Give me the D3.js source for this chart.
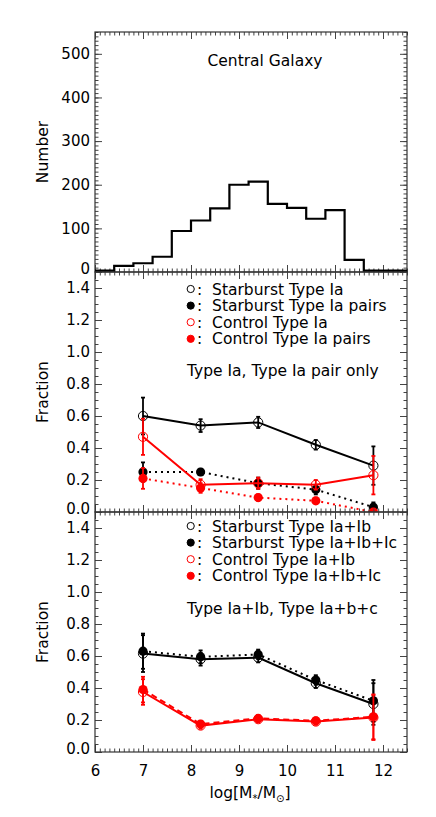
<!DOCTYPE html>
<html lang="en">
<head>
<meta charset="utf-8">
<title>Central galaxy fractions</title>
<script src="https://cdnjs.cloudflare.com/ajax/libs/d3/7.8.5/d3.min.js"></script>
<style>
  body { margin: 0; background: #fff; }
  svg { display: block; font-family: "DejaVu Sans", sans-serif; }
  .tick line { stroke: #444; }
  .tick text { font-size: 15px; fill: #000; font-family: "DejaVu Sans", sans-serif; }
</style>
</head>
<body>
<script>
// ---- data ----
var histLeft   = [6.0, 6.4, 6.8, 7.2, 7.6, 8.0, 8.4, 8.8, 9.2, 9.6, 10.0, 10.4, 10.8, 11.2, 11.6, 12.0, 12.4];
var histCounts = [0, 14, 20, 35, 94, 118, 146, 200, 207, 156, 147, 122, 142, 28, 0, 0, 0];
var binWidth = 0.4;

var massBins = [7.0, 8.2, 9.4, 10.6, 11.8];

// panel 2 : Type Ia, Type Ia pair only
var sbIa        = [0.60, 0.54, 0.56, 0.42, 0.29];
var sbIaErr     = [0.115, 0.04, 0.035, 0.03, 0.12];
var sbIaPairs   = [0.25, 0.25, 0.18, 0.14, 0.03];
var sbIaPairsErr= [0.06, 0.02, 0.035, 0.03, 0.03];
var ctIa        = [0.47, 0.17, 0.18, 0.17, 0.23];
var ctIaErr     = [0.113, 0.035, 0.035, 0.03, 0.12];
var ctIaPairs   = [0.21, 0.15, 0.09, 0.07, 0.0];
var ctIaPairsErr= [0.065, 0.03, 0.02, 0.02, 0.02];

// panel 3 : Type Ia+Ib, Type Ia+Ib+Ic
var sbIaIb      = [0.615, 0.58, 0.59, 0.43, 0.30];
var sbIaIbErr   = [0.115, 0.04, 0.03, 0.03, 0.13];
var sbIaIbIc    = [0.63, 0.595, 0.61, 0.45, 0.32];
var sbIaIbIcErr = [0.11, 0.04, 0.03, 0.03, 0.13];
var ctIaIb      = [0.375, 0.165, 0.205, 0.19, 0.215];
var ctIaIbErr   = [0.08, 0.02, 0.02, 0.02, 0.14];
var ctIaIbIc    = [0.39, 0.175, 0.21, 0.195, 0.22];
var ctIaIbIcErr = [0.08, 0.02, 0.02, 0.02, 0.14];

var xTicks = [6, 7, 8, 9, 10, 11, 12];
var numTicks = [0, 100, 200, 300, 400, 500];
var fracTicks = [0.0, 0.2, 0.4, 0.6, 0.8, 1.0, 1.2, 1.4];

// ---- layout ----
var W = 436, H = 817;
var plotLeft = 95, plotW = 312, plotH = 240;
var tops = [32, 272, 512];

var svg = d3.select("body").append("svg").attr("width", W).attr("height", H);

var x = d3.scaleLinear().domain([6, 12.5]).range([0, plotW]);
var xMinor = d3.range(6, 12.51, 0.1).map(function(v){ return Math.round(v*10)/10; });

function frame(g, y, major, minor, fmt, showX) {
    // left
    g.append("g").call(d3.axisLeft(y).tickValues(major).tickSize(-7).tickPadding(5).tickFormat(fmt))
        .call(function(s){ s.select(".domain").remove(); });
    g.append("g").call(d3.axisLeft(y).tickValues(minor).tickSize(-3.5).tickFormat(""))
        .call(function(s){ s.select(".domain").remove(); });
    // right
    g.append("g").attr("transform", "translate(" + plotW + ",0)")
        .call(d3.axisRight(y).tickValues(major).tickSize(-7).tickFormat(""))
        .call(function(s){ s.select(".domain").remove(); });
    g.append("g").attr("transform", "translate(" + plotW + ",0)")
        .call(d3.axisRight(y).tickValues(minor).tickSize(-3.5).tickFormat(""))
        .call(function(s){ s.select(".domain").remove(); });
    // top
    g.append("g").call(d3.axisTop(x).tickValues(xTicks).tickSize(-7).tickFormat(""))
        .call(function(s){ s.select(".domain").remove(); });
    g.append("g").call(d3.axisTop(x).tickValues(xMinor).tickSize(-3.5).tickFormat(""))
        .call(function(s){ s.select(".domain").remove(); });
    // bottom
    g.append("g").attr("transform", "translate(0," + plotH + ")")
        .call(d3.axisBottom(x).tickValues(xTicks).tickSize(-7).tickPadding(13)
              .tickFormat(showX ? d3.format("d") : ""))
        .call(function(s){ s.select(".domain").remove(); });
    g.append("g").attr("transform", "translate(0," + plotH + ")")
        .call(d3.axisBottom(x).tickValues(xMinor).tickSize(-3.5).tickFormat(""))
        .call(function(s){ s.select(".domain").remove(); });
    // nudge lowest y label up like the original
    g.selectAll("text").filter(function(d){ return d === 0; })
        .attr("transform", function(){ return d3.select(this.parentNode).datum() === 0 ? "translate(0,-3)" : null; });
    g.append("rect").attr("width", plotW).attr("height", plotH)
        .attr("fill", "none").attr("stroke", "#333").attr("stroke-width", 1.2);
}

function panel(i, id) {
    var g = svg.append("g").attr("transform", "translate(" + plotLeft + "," + tops[i] + ")");
    g.append("clipPath").attr("id", id).append("rect")
        .attr("x", 0).attr("y", 0).attr("width", plotW).attr("height", plotH);
    return g;
}

// ---- panel 1 : histogram ----
var g1 = panel(0, "c1");
var y1 = d3.scaleLinear().domain([0, 550]).range([plotH, 0]);
var histPts = histLeft.map(function(v, i){ return [v, histCounts[i]]; });
histPts.push([12.5, histCounts[histCounts.length-1]]);
frame(g1, y1, numTicks, d3.range(0, 551, 10), d3.format("d"), false);
// zero bins sit on the frame, lift the line a touch like the original
g1.append("path")
    .attr("d", d3.line().x(function(d){ return x(d[0]); }).y(function(d){ return Math.min(y1(d[1]), plotH - 1.3); })
          .curve(d3.curveStepAfter)(histPts))
    .attr("fill", "none").attr("stroke", "#000").attr("stroke-width", 2.2);
g1.append("text").attr("x", 170).attr("y", 34).attr("text-anchor", "middle")
    .attr("font-size", 15.5).text("Central Galaxy");

// ---- series drawing ----
function series(g, y, vals, errs, color, filled, dash) {
    var line = d3.line().x(function(d, i){ return x(massBins[i]); }).y(function(d){ return y(d); });
    g.append("path").attr("d", line(vals)).attr("fill", "none")
        .attr("stroke", color).attr("stroke-width", 2)
        .attr("stroke-dasharray", dash || null);
    var eb = g.append("g").attr("stroke", color).attr("stroke-width", 1.8);
    vals.forEach(function(v, i){
        var cx = x(massBins[i]);
        eb.append("line").attr("x1", cx).attr("x2", cx).attr("y1", y(v - errs[i])).attr("y2", y(v + errs[i]));
        eb.append("line").attr("x1", cx - 2).attr("x2", cx + 2).attr("y1", y(v + errs[i])).attr("y2", y(v + errs[i]));
        eb.append("line").attr("x1", cx - 2).attr("x2", cx + 2).attr("y1", y(v - errs[i])).attr("y2", y(v - errs[i]));
    });
    g.selectAll(null).data(vals).enter().append("circle")
        .attr("cx", function(d, i){ return x(massBins[i]); })
        .attr("cy", function(d){ return y(d); })
        .attr("r", 4.6)
        .attr("fill", filled ? color : "none")
        .attr("stroke", color).attr("stroke-width", filled ? 0 : 1);
}

function legend(g, rows, baseY, gap) {
    rows.forEach(function(r, i){
        var by = baseY + i * gap;
        g.append("circle").attr("cx", 95.7).attr("cy", by - 5.5).attr("r", 3.6)
            .attr("fill", r.filled ? r.color : "#fff")
            .attr("stroke", r.color).attr("stroke-width", 1);
        g.append("text").attr("x", 102).attr("y", by).attr("font-size", 15.5)
            .attr("xml:space", "preserve").text(":  " + r.label);
    });
}

// ---- panel 2 ----
var g2 = panel(1, "c2");
var y2 = d3.scaleLinear().domain([0, 1.5]).range([plotH, 0]);
var d2 = g2.append("g").attr("clip-path", "url(#c2)");
series(d2, y2, sbIaPairs, sbIaPairsErr, "#000", true, "2,4");
series(d2, y2, ctIaPairs, ctIaPairsErr, "#ff0000", true, "2,4");
series(d2, y2, sbIa, sbIaErr, "#000", false, null);
series(d2, y2, ctIa, ctIaErr, "#ff0000", false, null);
frame(g2, y2, fracTicks, d3.range(0, 1.501, 0.05), d3.format(".1f"), false);
legend(g2, [
    {label: "Starburst Type Ia", color: "#000", filled: false},
    {label: "Starburst Type Ia pairs", color: "#000", filled: true},
    {label: "Control Type Ia", color: "#ff0000", filled: false},
    {label: "Control Type Ia pairs", color: "#ff0000", filled: true}
], 22.5, 16.6);
g2.append("text").attr("x", 92).attr("y", 103.5).attr("font-size", 15.5)
    .text("Type Ia, Type Ia pair only");

// ---- panel 3 ----
var g3 = panel(2, "c3");
var y3 = d3.scaleLinear().domain([0, 1.5]).range([plotH, 0]);
var d3g = g3.append("g").attr("clip-path", "url(#c3)");
series(d3g, y3, sbIaIb, sbIaIbErr, "#000", false, null);
series(d3g, y3, ctIaIb, ctIaIbErr, "#ff0000", false, null);
series(d3g, y3, sbIaIbIc, sbIaIbIcErr, "#000", true, "2,4");
series(d3g, y3, ctIaIbIc, ctIaIbIcErr, "#ff0000", true, "6,4");
frame(g3, y3, fracTicks, d3.range(0, 1.501, 0.05), d3.format(".1f"), true);
legend(g3, [
    {label: "Starburst Type Ia+Ib", color: "#000", filled: false},
    {label: "Starburst Type Ia+Ib+Ic", color: "#000", filled: true},
    {label: "Control Type Ia+Ib", color: "#ff0000", filled: false},
    {label: "Control Type Ia+Ib+Ic", color: "#ff0000", filled: true}
], 19.5, 16.6);
g3.append("text").attr("x", 92).attr("y", 102).attr("font-size", 15.5)
    .text("Type Ia+Ib, Type Ia+b+c");

// ---- axis titles ----
[["Number", 0], ["Fraction", 1], ["Fraction", 2]].forEach(function(t){
    var cy = tops[t[1]] + plotH / 2;
    svg.append("text").attr("transform", "translate(48," + cy + ") rotate(-90)")
        .attr("text-anchor", "middle").attr("font-size", 15.5).text(t[0]);
});

var xt = svg.append("text").attr("x", 250).attr("y", 798).attr("text-anchor", "middle")
    .attr("font-size", 15.5);
xt.append("tspan").text("log[M");
xt.append("tspan").attr("font-size", 10).attr("dy", 4).text("*");
xt.append("tspan").attr("dy", -4).text("/M");
xt.append("tspan").attr("font-size", 10).attr("dy", 4).text("\u2299");
xt.append("tspan").attr("dy", -4).text("]");
</script>
</body>
</html>
